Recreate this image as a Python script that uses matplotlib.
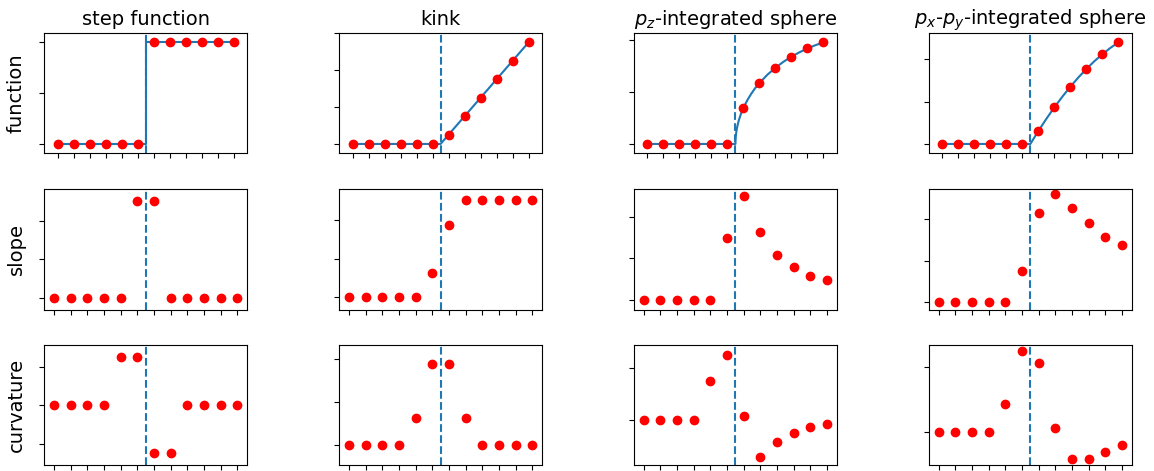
import matplotlib
matplotlib.use("Agg")
import matplotlib.pyplot as plt

# sample positions (12 grid points, edge at x = 0)
x_pts = [-5.5, -4.5, -3.5, -2.5, -1.5, -0.5, 0.5, 1.5, 2.5, 3.5, 4.5, 5.5]

col_titles = ["step function", "kink", r"$p_z$-integrated sphere",
              r"$p_x$-$p_y$-integrated sphere"]
row_labels = ["function", "slope", "curvature"]

# step function
step_f = [0, 0, 0, 0, 0, 0, 1, 1, 1, 1, 1, 1]
step_slope = [0, 0, 0, 0, 0, 0.5, 0.5, 0, 0, 0, 0, 0]
step_curv = [0, 0, 0, 0, 0.25, 0.25, -0.25, -0.25, 0, 0, 0, 0]
step_line_x = [-5.5, 0, 0, 5.5]
step_line_y = [0, 0, 1, 1]

# kink
kink_f = [0, 0, 0, 0, 0, 0, 0.5, 1.5, 2.5, 3.5, 4.5, 5.5]
kink_slope = [0, 0, 0, 0, 0, 0.25, 0.75, 1, 1, 1, 1, 1]
kink_curv = [0, 0, 0, 0, 0.125, 0.375, 0.375, 0.125, 0, 0, 0, 0]
kink_line_x = [-5.5, 0, 5.5]
kink_line_y = [0, 0, 5.5]

# p_z-integrated sphere
pz_f = [0, 0, 0, 0, 0, 0, 2.958, 4.975, 6.225, 7.124, 7.794, 8.292]
pz_slope = [0, 0, 0, 0, 0, 1.479, 2.488, 1.634, 1.075, 0.785, 0.584, 0.498]
pz_curv = [0, 0, 0, 0, 0.740, 1.244, 0.077, -0.707, -0.425, -0.245, -0.143, -0.086]
pz_line_x = [-5.5, 0, 0.005, 0.02, 0.05, 0.1, 0.2, 0.35, 0.5, 0.75, 1.0, 1.25,
             1.5, 2.0, 2.5, 3.0, 3.5, 4.0, 4.5, 5.0, 5.5]
pz_line_y = [0, 0, 0.300, 0.600, 0.947, 1.338, 1.887, 2.488, 2.958, 3.590,
             4.123, 4.590, 4.975, 5.657, 6.225, 6.708, 7.124, 7.483, 7.794,
             8.062, 8.292]

# p_x-p_y-integrated sphere
pxy_f = [0, 0, 0, 0, 0, 0, 8.75, 24.75, 38.75, 50.75, 60.75, 68.75]
pxy_slope = [0, 0, 0, 0, 0, 4.375, 12.375, 15, 13, 11, 9, 8]
pxy_curv = [0, 0, 0, 0, 2.1875, 6.1875, 5.3125, 0.3125, -2, -2, -1.5, -1]
pxy_line_x = [-5.5, 0, 0.5, 1.0, 1.5, 2.0, 2.5, 3.0, 3.5, 4.0, 4.5, 5.0, 5.5]
pxy_line_y = [0, 0, 8.75, 17.0, 24.75, 32.0, 38.75, 45.0, 50.75, 56.0,
              60.75, 65.0, 68.75]

columns = [
    (step_line_x, step_line_y, step_f, step_slope, step_curv),
    (kink_line_x, kink_line_y, kink_f, kink_slope, kink_curv),
    (pz_line_x, pz_line_y, pz_f, pz_slope, pz_curv),
    (pxy_line_x, pxy_line_y, pxy_f, pxy_slope, pxy_curv),
]

# y ranges and tick positions for each panel [row][column]
ylims = [
    [(-0.092, 1.092), (-0.506, 6.006), (-0.763, 9.055), (-6.33, 75.08)],
    [(-0.0625, 0.5625), (-0.125, 1.115), (-0.22, 2.65), (-1.0, 15.65)],
    [(-0.3125, 0.3125), (-0.095, 0.463), (-0.873, 1.435), (-2.51, 6.65)],
]
yticks = [
    [[0, 0.5, 1], [0, 2, 4, 6], [0, 4.24, 8.48], [0, 28.6, 57.3]],
    [[0, 0.2, 0.4], [0, 0.4, 0.8], [0, 1, 2], [0, 5.77, 11.5]],
    [[-0.2, 0, 0.2], [0, 0.2, 0.4], [0, 1], [0, 5]],
]

W, H = 1154, 471
fig = plt.figure(figsize=(W / 100, H / 100), dpi=100)

ax_w = 203.3
ax_h = 120.3
lefts = [44 + 294.9 * j for j in range(4)]
tops = [33, 189.3, 345]
xpad = [0.85, 0.6, 0.6]

for r in range(3):
    for c in range(4):
        ax = fig.add_axes([lefts[c] / W, (H - tops[r] - ax_h) / H,
                           ax_w / W, ax_h / H])
        lx, ly, f, s, k = columns[c]
        if r == 0:
            ax.plot(lx, ly, color="C0", lw=1.5)
            vals = f
        elif r == 1:
            vals = s
        else:
            vals = k
        ax.axvline(0, color="C0", ls="--", lw=1.5)
        ax.plot(x_pts, vals, "ro", ms=6)

        ax.set_ylim(*ylims[r][c])
        ax.set_xlim(x_pts[0] - xpad[r], x_pts[-1] + xpad[r])
        ax.set_xticks(x_pts)
        ax.set_yticks(yticks[r][c])
        ax.set_xticklabels([])
        ax.set_yticklabels([])

        if r == 0:
            ax.set_title(col_titles[c], fontsize=14)
        if c == 0:
            ax.set_ylabel(row_labels[r], fontsize=14, labelpad=6)

fig.savefig("out.png", dpi=100)
